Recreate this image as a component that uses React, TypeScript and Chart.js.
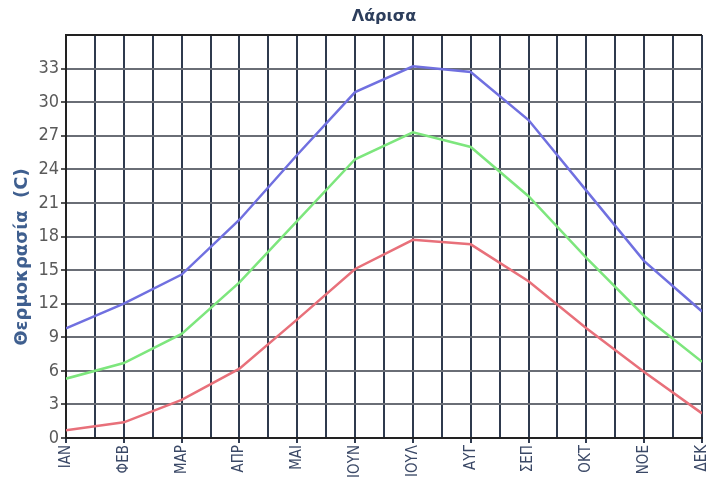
import React, { useEffect, useRef } from "react";
import { Chart, registerables } from "chart.js";

Chart.register(...registerables);

const months = ["ΙΑΝ", "ΦΕΒ", "ΜΑΡ", "ΑΠΡ", "ΜΑΙ", "ΙΟΥΝ", "ΙΟΥΛ", "ΑΥΓ", "ΣΕΠ", "ΟΚΤ", "ΝΟΕ", "ΔΕΚ"];
const maxTemp = [9.8, 12.0, 14.6, 19.5, 25.3, 30.9, 33.2, 32.7, 28.4, 22.1, 15.8, 11.3];
const meanTemp = [5.3, 6.7, 9.3, 13.9, 19.4, 24.9, 27.3, 26.0, 21.6, 16.1, 10.9, 6.8];
const minTemp = [0.7, 1.4, 3.4, 6.2, 10.6, 15.1, 17.7, 17.3, 14.0, 9.8, 5.9, 2.2];
const yTicks = [0, 3, 6, 9, 12, 15, 18, 21, 24, 27, 30, 33];
const title = "Λάρισα";
const yTitle = "Θερμοκρασία  (C)";

const toPoints = (arr: number[]) => arr.map((v, i) => ({ x: i, y: v }));

export default function App() {
  const ref = useRef<HTMLCanvasElement | null>(null);
  useEffect(() => {
    if (!ref.current) return;
    const textPlugin = {
      id: "texts",
      afterDraw(chart: any) {
        const ctx = chart.ctx;
        const ca = chart.chartArea;
        ctx.save();
        ctx.fillStyle = "#2d3e5c";
        ctx.font = "bold 16px 'DejaVu Sans', sans-serif";
        ctx.textAlign = "center";
        ctx.textBaseline = "middle";
        ctx.fillText(title, (ca.left + ca.right) / 2, 17);
        ctx.translate(22, 257);
        ctx.rotate(-Math.PI / 2);
        ctx.fillStyle = "#3f5f8f";
        ctx.font = "bold 18px 'DejaVu Sans', sans-serif";
        ctx.fillText(yTitle, 0, 0);
        ctx.restore();
      },
    };
    const chart = new Chart(ref.current, {
      type: "line",
      data: {
        datasets: [
          { label: "max", data: toPoints(maxTemp), borderColor: "rgb(112,112,224)", borderWidth: 2.5, pointRadius: 0, tension: 0 },
          { label: "mean", data: toPoints(meanTemp), borderColor: "rgb(125,230,125)", borderWidth: 2.5, pointRadius: 0, tension: 0 },
          { label: "min", data: toPoints(minTemp), borderColor: "rgb(232,112,122)", borderWidth: 2.5, pointRadius: 0, tension: 0 },
        ],
      },
      options: {
        responsive: false,
        animation: false,
        layout: { padding: { top: 35, right: 5, left: 0, bottom: 0 } },
        plugins: { legend: { display: false }, title: { display: false }, tooltip: { enabled: false } },
        scales: {
          x: {
            type: "linear",
            min: 0,
            max: months.length - 1,
            afterFit(scale: any) {
              scale.height = 41;
              scale.paddingLeft = 0;
              scale.paddingRight = 0;
            },
            afterBuildTicks(scale: any) {
              const t = [];
              for (let v = 0; v <= months.length - 1 + 1e-6; v += 0.5) t.push({ value: v });
              scale.ticks = t;
            },
            ticks: {
              autoSkip: false,
              minRotation: 90,
              maxRotation: 90,
              padding: 2,
              color: "#3a4866",
              font: { family: "'DejaVu Sans Condensed', 'DejaVu Sans', sans-serif", size: 15 },
              callback: (v: any) => (Number.isInteger(v) ? months[v] : ""),
            },
            grid: {
              color: "#2f3a4e",
              lineWidth: 2,
              tickLength: 5,
              tickColor: (c: any) => (c.tick && Number.isInteger(c.tick.value) ? "#2f3a4e" : "rgba(0,0,0,0)"),
            },
            border: { color: "#222", width: 2 },
          },
          y: {
            type: "linear",
            min: 0,
            max: 36,
            afterFit(scale: any) {
              scale.width = 66;
              scale.paddingTop = 0;
              scale.paddingBottom = 0;
            },
            afterBuildTicks(scale: any) {
              scale.ticks = [...yTicks, 36].map((v) => ({ value: v }));
            },
            ticks: {
              padding: 2,
              color: "#5a5a5a",
              font: { family: "'DejaVu Sans Condensed', 'DejaVu Sans', sans-serif", size: 18 },
              callback: (v: any) => (yTicks.includes(v) ? String(v) : ""),
            },
            grid: {
              color: (c: any) => (c.tick && c.tick.value === 36 ? "#222" : "#6a6e76"),
              lineWidth: 2,
              tickLength: 5,
              tickColor: (c: any) => (c.tick && c.tick.value === 36 ? "rgba(0,0,0,0)" : "#555"),
            },
            border: { color: "#222", width: 2 },
          },
        },
      },
      plugins: [textPlugin],
    } as any);
    return () => chart.destroy();
  }, []);
  return (
    <div style={{ position: "fixed", left: 0, top: 0, width: 707, height: 479, background: "#fff" }}>
      <canvas ref={ref} width={707} height={479} style={{ width: 707, height: 479 }} />
    </div>
  );
}
